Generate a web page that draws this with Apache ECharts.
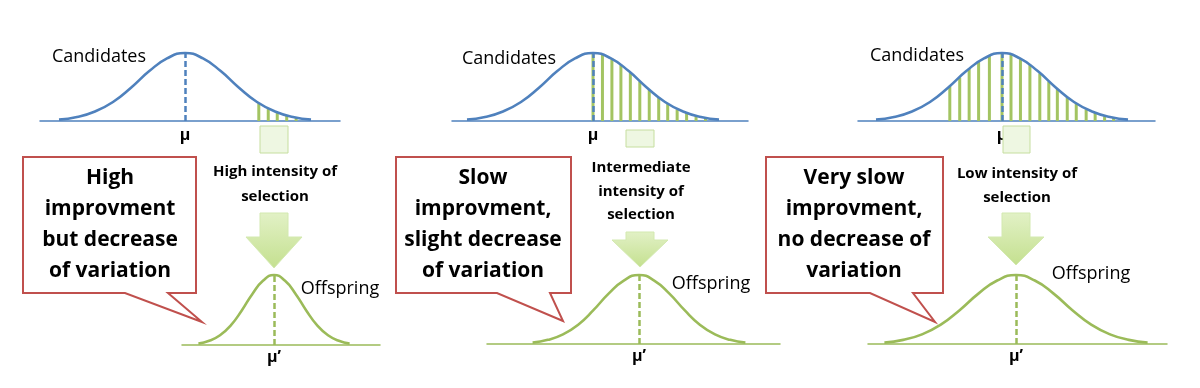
<!DOCTYPE html>
<html><head><meta charset="utf-8">
<script src="https://cdn.jsdelivr.net/npm/echarts@6/dist/echarts.min.js"></script>
<style>html,body{margin:0;padding:0;background:#fff}#c{width:1200px;height:388px}</style>
</head><body><div id="c"></div>
<script>
// ---- data ----
// curve shape: position in SD units, relative height
const curveZ = [-2.8,-2.4,-2.0,-1.6,-1.2,-0.8,-0.4,0,0.4,0.8,1.2,1.6,2.0,2.4,2.8];
const curveH = [0.02,0.06,0.14,0.28,0.49,0.73,0.92,1,0.92,0.73,0.49,0.28,0.14,0.06,0.02];
// selected candidates (hatching) for each intensity of selection
const hatchZ1 = [1.64,1.85,2.05,2.26,2.47];
const hatchH1 = [0.26,0.18,0.12,0.08,0.05];
const hatchZ2 = [0,0.21,0.42,0.62,0.83,1.04,1.25,1.46,1.66,1.87,2.08,2.29,2.5];
const hatchH2 = [1,0.98,0.92,0.83,0.71,0.58,0.46,0.34,0.25,0.17,0.12,0.07,0.04];
const hatchZ3 = [-1.16,-0.94,-0.73,-0.52,-0.28,0,0.2,0.41,0.62,0.84,1.04,1.23,1.45,1.65,1.87,2.07,2.28,2.48];
const hatchH3 = [0.51,0.64,0.77,0.87,0.96,1,0.98,0.92,0.83,0.70,0.58,0.47,0.35,0.26,0.17,0.12,0.07,0.05];
const meanLabelTop = 'μ';
const meanLabelBottom = 'μ’';
const candidatesLabel = 'Candidates';
const offspringLabel = 'Offspring';
const selectionLabels = ['High intensity of\nselection', 'Intermediate\nintensity of\nselection', 'Low intensity of\nselection'];
const outcomeLabels = ['High\nimprovment\nbut decrease\nof variation', 'Slow\nimprovment,\nslight decrease\nof variation', 'Very slow\nimprovment,\nno decrease of\nvariation'];

// ---- layout & style ----
const BLUE = '#4f81bd', GREEN = '#9bbb59', HATCH = '#a3c462', RED = '#c0504d';
const FONT = '"Open Sans", "Noto Sans", sans-serif';
const hatches = [[hatchZ1,hatchH1],[hatchZ2,hatchH2],[hatchZ3,hatchH3]];
const topL = [ {bl:40, br:340, px:185, s:45}, {bl:452, br:748, px:593, s:45}, {bl:858, br:1155, px:1002, s:45} ];
const botL = [ {bl:182, br:380, px:274, s:27}, {bl:487, br:780, px:639, s:38}, {bl:868, br:1167, px:1016, s:47} ];
const TOP_PEAK = 53, TOP_BASE = 121, BOT_PEAK = 275, BOT_BASE = 344;

const grid = [], xAxis = [], yAxis = [], series = [];
function addCurve(L, peakY, baseY, color, label, labelMargin, hatch) {
  const i = grid.length;
  grid.push({left: L.bl, width: L.br - L.bl, top: peakY, height: baseY - peakY, containLabel: false});
  xAxis.push({type:'value', gridIndex:i, min:(L.bl-L.px)/L.s, max:(L.br-L.px)/L.s,
    axisLine:{show:true, onZero:false, lineStyle:{color:color, width:1.5}},
    axisTick:{show:false}, splitLine:{show:false},
    axisLabel:{show:true, customValues:[0], showMinLabel:false, showMaxLabel:false,
      formatter: v => Math.abs(v) < 1e-9 ? label : '',
      margin: labelMargin, fontSize:16, fontWeight:'bold', color:'#000', fontFamily: FONT}});
  yAxis.push({type:'value', gridIndex:i, min:0, max:1, show:false});
  if (hatch) {
    series.push({type:'bar', xAxisIndex:i, yAxisIndex:i, barWidth:3, silent:true, z:2,
      itemStyle:{color:HATCH}, data: hatch[0].map((z,k)=>[z, hatch[1][k]])});
  }
  series.push({type:'line', xAxisIndex:i, yAxisIndex:i, smooth:true, symbol:'none', clip:false, z:3,
    lineStyle:{color:color, width:2.6}, data: curveZ.map((z,k)=>[z, curveH[k]]),
    markLine:{silent:true, symbol:['none','none'], label:{show:false},
      lineStyle:{color:color, width:2.5, type:[6,3]}, data:[{xAxis:0}]}});
}
for (let p = 0; p < 3; p++) addCurve(topL[p], TOP_PEAK, TOP_BASE, BLUE, meanLabelTop, 6, hatches[p]);
for (let p = 0; p < 3; p++) addCurve(botL[p], BOT_PEAK, BOT_BASE + (p===0?1:0), GREEN, meanLabelBottom, 4, null);

// annotations
const calloutPts = [
  [[23,157],[196,157],[196,293],[168,293],[202,322],[125,293],[23,293]],
  [[396,157],[571,157],[571,293],[550,293],[563,321],[497,293],[396,293]],
  [[766,157],[943,157],[943,293],[913,293],[935,322],[870,293],[766,293]]
];
const calloutTextPos = [[110,225],[483,225],[854,225]];
const shaftTop = [[260,126,28,27],[626,130,28,17],[1003,126,27,27]];
const arrowPts = [
  [[260,213],[288,213],[288,237],[302,237],[274,268],[246,237],[260,237]],
  [[626,232],[654,232],[654,240],[668,240],[640,267],[612,240],[626,240]],
  [[1002,213],[1030,213],[1030,237],[1044,237],[1016,265],[988,237],[1002,237]]
];
const selTextPos = [[275,184.5,25],[641,191.5,23.5],[1017,186,24]];
const candPos = [[99,57],[509,59],[917,55.5]];
const offPos = [[340,289],[711,284],[1091,274]];

function txt(x, y, text, font, lh) {
  return {type:'text', x:x, y:y, z:10, silent:true, style:{text:text, font:font, fill:'#000',
    align:'center', verticalAlign:'middle', textAlign:'center', textVerticalAlign:'middle', lineHeight: lh}};
}
const graphic = [];
for (let p = 0; p < 3; p++) {
  graphic.push({type:'polygon', z:5, silent:true, shape:{points:calloutPts[p]},
    style:{fill:'#fff', stroke:RED, lineWidth:2}});
  graphic.push(txt(calloutTextPos[p][0], calloutTextPos[p][1], outcomeLabels[p], 'bold 21px ' + FONT, 31));
  const s = shaftTop[p];
  graphic.push({type:'rect', z:4, silent:true, shape:{x:s[0], y:s[1], width:s[2], height:s[3]},
    style:{fill:'#eef7e2', stroke:'#c6de9f', lineWidth:1}});
  graphic.push({type:'polygon', z:4, silent:true, shape:{points:arrowPts[p]},
    style:{fill:new echarts.graphic.LinearGradient(0,0,0,1,[{offset:0,color:'#e2f1c6'},{offset:1,color:'#c4e08f'}]),
      stroke:'#d3e9b0', lineWidth:1}});
  graphic.push(txt(selTextPos[p][0], selTextPos[p][1], selectionLabels[p], 'bold 15px ' + FONT, selTextPos[p][2]));
  graphic.push(txt(candPos[p][0], candPos[p][1], candidatesLabel, '18px ' + FONT, 22));
  graphic.push(txt(offPos[p][0], offPos[p][1], offspringLabel, '18px ' + FONT, 22));
}

const chart = echarts.init(document.getElementById('c'), null, {renderer:'canvas'});
chart.setOption({animation:false, backgroundColor:'#fff', grid, xAxis, yAxis, series, graphic});
</script></body></html>
